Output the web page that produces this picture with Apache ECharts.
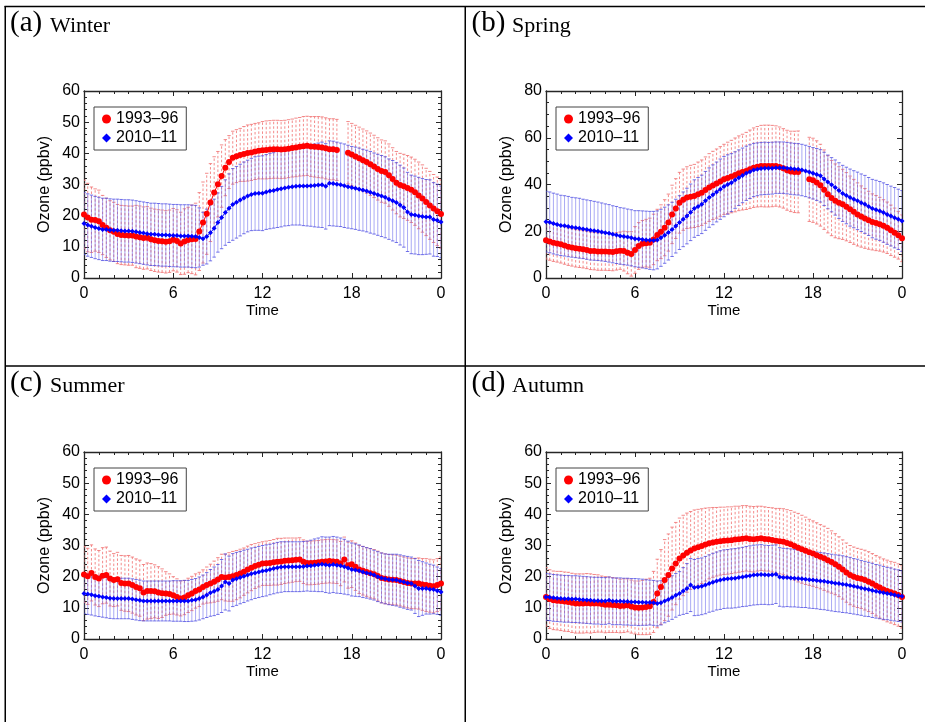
<!DOCTYPE html>
<html><head><meta charset="utf-8">
<script src="https://cdn.jsdelivr.net/npm/echarts@6/dist/echarts.min.js"></script>
<style>html,body{margin:0;padding:0;background:#fff}#c{width:925px;height:722px}</style>
</head><body><div id="c"></div>
<script>
// Time of day (hours), 15-minute steps
const TIME = [
 0,0.25,0.5,0.75,1,1.25,1.5,1.75, 2,2.25,2.5,2.75,3,3.25,3.5,3.75,
 4,4.25,4.5,4.75,5,5.25,5.5,5.75, 6,6.25,6.5,6.75,7,7.25,7.5,7.75,
 8,8.25,8.5,8.75,9,9.25,9.5,9.75, 10,10.25,10.5,10.75,11,11.25,11.5,11.75,
 12,12.25,12.5,12.75,13,13.25,13.5,13.75, 14,14.25,14.5,14.75,15,15.25,15.5,15.75,
 16,16.25,16.5,16.75,17,17.25,17.5,17.75, 18,18.25,18.5,18.75,19,19.25,19.5,19.75,
 20,20.25,20.5,20.75,21,21.25,21.5,21.75, 22,22.25,22.5,22.75,23,23.25,23.5,23.75, 24];
const X_TICK_LABELS = {0:'0',6:'6',12:'12',18:'18',24:'0'};
const NAME_OLD = '1993–96';
const NAME_NEW = '2010–11';
const PANEL_LABELS = ['(a)','(b)','(c)','(d)'];
const PANEL_SEASONS = ['Winter','Spring','Summer','Autumn'];
const Y_MAX = [60,80,60,60];
const Y_STEP = [10,20,10,10];
const Y_MINOR = [5,4,5,5];

// ---- Winter ----
const WINTER_OLD_MEAN = [
 20.4,19.4,18.7,18.6,18.2,17.0,16.1,15.3, 14.8,14.1,13.8,13.7,13.6,13.6,13.3,13.1,
 12.8,12.9,12.4,12.1,11.9,11.8,11.6,11.8, 12.3,11.9,11.1,11.7,12.2,12.4,12.5,14.9,
 17.8,20.6,24.2,27.4,30.1,32.7,35.4,37.2, 38.6,39.1,39.5,39.8,40.1,40.3,40.6,40.8,
 41.0,41.1,41.2,41.3,41.3,41.2,41.3,41.5, 41.7,41.9,42.1,42.3,42.4,42.2,42.1,42.0,
 41.9,41.6,41.3,41.3,41.1,null,null,40.2, 39.6,39.0,38.4,37.8,37.2,36.5,35.8,35.0,
 34.3,34.0,33.0,31.8,30.6,29.8,29.4,28.9, 28.3,27.5,26.5,25.5,24.4,23.3,22.3,21.4, 20.5];
const WINTER_OLD_SD = [
 11,11,10.5,10,10,9.5,9.5,9.5, 9.5,9.5,9.5,9.5,9.5,9.5,10,10,
 10,10,10,10,10,10,10,10, 10,10,10,10.5,10.5,11,11.5,12.5,
 13,13,12.5,11.5,10.5,10,9,8.5, 8.5,8.5,8.5,8.8,9,9,9,9,
 9.2,9.3,9.3,9.3,9.3,9.3,9.3,9.3, 9.3,9.4,9.4,9.5,9.5,9.6,9.7,9.8,
 9.8,9.8,9.8,9.8,9.8,9.9,9.9,10, 10,10,10,10,10,10,10,10,
 10,10,10,10,10,10.2,10.3,10.4, 10.5,10.6,10.7,10.8,10.8,10.9,10.9,11, 11];
const WINTER_NEW_MEAN = [
 17.5,17.0,16.6,16.2,15.9,15.6,15.6,15.4, 15.3,15.3,15.2,15.1,15.1,15.0,14.8,14.6,
 14.4,14.2,14.0,14.0,13.9,13.8,13.8,13.7, 13.6,13.6,13.5,13.5,13.5,13.4,13.3,13.0,
 12.6,13.3,14.5,16.0,17.8,19.4,21.0,22.4, 23.6,24.3,25.0,25.7,26.3,26.8,27.1,27.2,
 27.2,27.6,27.9,28.1,28.4,28.6,28.9,29.1, 29.3,29.4,29.5,29.5,29.5,29.6,29.7,29.8,
 29.9,29.4,30.4,30.3,30.1,29.9,29.6,29.3, 29.0,28.8,28.5,28.2,27.9,27.5,27.1,26.7,
 26.3,25.9,25.3,24.8,24.2,23.4,22.6,21.2, 20.4,20.2,19.9,19.7,19.6,19.6,18.8,18.5, 18.0];
const WINTER_NEW_SD = [
 10,10,10,10,10,10,10,10, 10,10,10,10,10,10,10,10,
 10,10,10,10,10,10,10,10, 10,10,10,10,10,10,10,9.5,
 8.5,8.8,9,9.3,9.5,10,10.5,11, 11.5,11.5,11.5,11.5,11.5,11.6,11.8,11.9,
 12,12,12.1,12.1,12.2,12.2,12.2,12.3, 12.3,12.4,12.5,12.7,12.8,13,13.3,13.5,
 13.7,13.7,13.6,13.6,13.5,13.4,13.4,13.3, 13.2,13.2,13.2,13.1,13.1,13.1,13,13,
 13,13,12.9,12.9,12.8,12.8,12.7,12.7, 12.6,12.5,12.4,12.2,12,11.9,11.8,11.6, 11.5];

// ---- Spring ----
const SPRING_OLD_MEAN = [
 16.1,15.6,15.1,14.8,14.4,13.9,13.4,13.1, 12.7,12.5,12.3,12.0,11.6,11.5,11.3,11.3,
 11.3,11.2,11.1,11.4,11.7,11.5,10.8,10.3, 12.0,13.7,14.6,14.9,15.1,16.5,18.4,19.8,
 21.5,23.7,27.2,29.7,32.2,33.5,34.4,34.8, 35.1,35.8,36.5,37.6,38.7,39.6,40.4,41.3,
 42.2,42.8,43.4,44.1,44.8,45.3,45.8,46.5, 47.2,47.6,47.9,47.9,47.9,47.9,47.9,47.5,
 46.9,46.1,45.6,45.4,45.4,null,null,42.2, 41.8,40.9,39.7,37.8,35.8,34.2,33.0,32.2,
 31.5,30.5,29.4,28.3,27.2,26.3,25.5,24.7, 24.0,23.5,23.0,22.3,21.5,20.4,19.4,18.3, 17.0];
const SPRING_OLD_SD = [
 8,8,8,8,8,8,8,8, 8,8,8,8,8,8,8,8,
 8,8,8,8,8,8.5,9,9.5, 10,10,10,10.2,10.5,10.8,11,11.5,
 12,12.2,12.5,12.8,13,13.1,13.2,13.4, 13.5,13.8,14,14.2,14.5,14.6,14.8,14.9,
 15,15.3,15.5,15.8,16,16.2,16.5,16.8, 17,17.2,17.4,17.5,17.5,17.4,17.2,17.1,
 17,17.1,17.2,17.4,17.5,17.7,17.8,18, 18,17.8,17.5,17,16.5,16.1,15.8,15.4,
 15,14.6,14.2,13.9,13.5,13.1,12.8,12.4, 12,11.8,11.5,11.2,11,10.8,10.5,10.2, 10];
const SPRING_NEW_MEAN = [
 24.1,23.8,23.3,22.9,22.5,22.3,22.0,21.7, 21.5,21.3,21.0,20.7,20.4,20.2,20.0,19.7,
 19.4,19.1,18.7,18.4,18.0,17.8,17.5,17.2, 16.8,16.7,16.5,16.3,16.1,16.0,16.3,17.2,
 18.3,19.5,20.8,22.2,23.7,25.1,26.5,28.1, 29.7,30.6,31.5,33.0,34.4,35.6,36.8,38.0,
 39.1,40.0,40.8,41.9,42.9,43.9,44.8,45.5, 46.2,46.5,46.8,46.9,46.9,47.0,47.2,47.2,
 47.2,47.0,46.8,46.6,46.5,46.2,45.8,45.3, 44.8,44.3,43.7,42.4,41.1,39.9,38.7,37.4,
 36.2,35.3,34.4,33.7,33.0,32.2,31.5,30.6, 29.7,29.2,28.7,28.0,27.2,26.5,25.8,25.1, 24.4];
const SPRING_NEW_SD = [
 13,13,13,13,12.9,12.9,12.9,12.8, 12.8,12.8,12.7,12.7,12.7,12.6,12.5,12.4,
 12.3,12.3,12.2,12.2,12.1,12.1,12,12, 12,12.1,12.2,12.3,12.4,12.5,12.4,12.2,
 12,11.8,11.6,11.5,11.5,11.7,11.9,12.1, 12.3,12.4,12.5,12.6,12.7,12.8,12.8,12.9,
 12.9,12.7,12.4,12.1,11.9,11.7,11.6,11.5, 11.4,11.3,11.2,11.2,11.1,11.1,11,11,
 11,11,11,11,11,11,11,11, 11,11.1,11.2,11.4,11.5,11.6,11.8,11.9,
 12,12.1,12.2,12.2,12.3,12.3,12.4,12.4, 12.5,12.6,12.6,12.7,12.8,12.8,12.9,12.9, 13];

// ---- Summer ----
const SUMMER_OLD_MEAN = [
 20.7,20.1,21.2,19.9,19.4,20.3,20.5,19.4, 18.9,19.2,18.0,17.8,17.8,17.3,16.7,16.3,
 14.9,15.4,15.4,15.3,14.9,14.7,14.6,14.4, 14.0,13.5,13.0,13.3,14.0,14.6,15.4,15.9,
 16.7,17.3,17.8,18.4,19.1,19.9,19.7,19.9, 20.1,20.5,21.0,21.6,22.3,22.9,23.4,23.8,
 24.2,24.3,24.4,24.6,24.8,24.9,25.1,25.2, 25.3,25.4,25.5,24.8,24.4,24.4,24.5,24.6,
 24.8,24.9,25.0,24.9,24.8,24.2,25.5,23.7, 24.0,23.2,22.3,21.9,21.5,21.1,20.8,20.2,
 19.6,19.3,19.1,19.0,18.9,18.6,18.3,18.0, 17.8,17.8,17.8,17.5,17.3,17.1,16.9,17.3, 17.8];
const SUMMER_OLD_SD = [
 9,9,9,9,9,9,9,8.8, 8.5,8.6,8.8,8.9,9,9,9,9,
 9,9,8.8,8.5,8.3,7.8,7,6.5, 6,5.8,5.6,5.5,5.5,5.5,5.5,5.5,
 5.5,5.8,6.2,6.6,7,7.3,7.5,7.8, 8,7.9,7.8,7.6,7.5,7.4,7.2,7.1,
 7,7.1,7.2,7.3,7.5,7.4,7.3,7.2, 7.1,7,7,7,7,7,7,7,
 7,7,7,7,7,7.1,7.2,7.4, 7.5,7.6,7.7,7.8,7.8,7.9,7.9,8,
 8,8,8,8,8,8,8,8, 8,8.1,8.2,8.3,8.5,8.5,8.5,8.5, 8.5];
const SUMMER_NEW_MEAN = [
 14.6,14.4,14.2,13.9,13.7,13.5,13.3,13.1, 13.0,13.0,13.0,13.0,13.0,12.8,12.6,12.4,
 12.2,12.2,12.2,12.2,12.2,12.2,12.2,12.2, 12.2,12.2,12.2,12.2,12.2,12.4,12.6,13.0,
 13.5,14.1,14.8,15.3,15.9,17.0,18.3,17.8, 18.9,19.3,19.7,20.1,20.5,20.9,21.2,21.5,
 21.8,22.0,22.3,22.6,22.9,23.1,23.2,23.2, 23.2,23.2,23.2,23.3,23.4,23.5,23.7,23.8,
 24.0,23.8,23.7,23.9,23.7,23.5,23.2,22.8, 22.3,22.1,21.9,21.5,21.2,20.9,20.5,20.0,
 19.6,19.3,19.1,19.0,18.9,18.6,18.3,18.0, 17.8,17.0,16.2,16.2,16.2,16.0,15.9,15.5, 15.1];
const SUMMER_NEW_SD = [
 6.5,6.5,6.5,6.5,6.5,6.5,6.5,6.5, 6.5,6.5,6.5,6.5,6.5,6.5,6.5,6.5,
 6.4,6.4,6.4,6.4,6.4,6.4,6.4,6.4, 6.5,6.5,6.5,6.6,6.6,6.7,6.8,6.9,
 7,7.2,7.5,7.8,8,8.5,9,8.8, 8.5,8.5,8.4,8.4,8.3,8.3,8.2,8.2,
 8.2,8.2,8.1,8.1,8.1,8.1,8,8, 8,8,8,8,8,8.2,8.4,8.6,
 8.8,8.9,9,9,9,8.9,8.8,8.6, 8.5,8.4,8.3,8.2,8.1,8.1,8,8,
 8,8,8.1,8.2,8.3,8.4,8.4,8.5, 8.5,8.8,9,8.6,8.2,8,7.8,7.6, 7.5];

// ---- Autumn ----
const AUTUMN_OLD_MEAN = [
 13.5,12.8,12.4,12.3,12.2,12.0,11.9,11.6, 11.4,11.4,11.4,11.5,11.4,11.4,11.4,11.2,
 11.0,11.0,10.9,10.8,10.6,10.7,10.8,10.4, 10.1,10.0,10.1,10.3,10.5,11.9,14.6,16.7,
 18.9,20.5,22.6,24.2,25.8,26.8,27.7,28.4, 29.0,29.4,29.8,30.3,30.7,31.0,31.2,31.4,
 31.5,31.6,31.7,31.9,32.0,32.2,32.3,32.1, 32.0,32.2,32.3,32.1,32.0,31.8,31.5,31.4,
 31.2,30.8,30.4,29.8,29.3,28.8,28.3,27.8, 27.4,26.9,26.4,25.9,25.3,24.7,24.0,23.2,
 22.3,21.3,20.5,20.0,19.6,19.3,18.9,18.4, 17.8,17.1,16.5,15.9,15.4,15.0,14.6,14.1, 13.5];
const AUTUMN_OLD_SD = [
 9.4,9.4,9.4,9.4,9.5,9.5,9.5,9.5, 9.5,9.5,9.5,9.5,9.5,9.3,9.2,9,
 9,8.9,8.8,8.7,8.6,8.6,8.5,8.5, 8.5,8.6,8.7,8.9,9,9.8,11,12,
 13,13.2,13.3,13.2,13,12.9,12.7,12.5, 12.4,12.2,12,11.7,11.4,11.2,11,10.9,
 10.8,10.8,10.7,10.7,10.6,10.6,10.5,10.5, 10.5,10.4,10.3,10.3,10.2,10.3,10.4,10.5,
 10.6,10.7,10.8,10.9,11,10.9,10.8,10.6, 10.5,10.4,10.3,10.3,10.2,10,9.8,9.6,
 9.5,9.5,9.5,9.5,9.5,9.5,9.6,9.6, 9.6,9.7,9.8,9.8,9.9,9.9,10,10, 10];
const AUTUMN_NEW_MEAN = [
 13.5,13.4,13.2,13.1,13.0,12.9,12.9,12.8, 12.8,12.7,12.6,12.5,12.4,12.3,12.3,12.2,
 12.2,12.4,12.1,12.1,12.1,12.0,12.0,11.9, 11.9,11.8,11.8,11.7,11.7,11.6,11.4,11.6,
 12.2,12.7,13.3,14.0,14.6,15.4,16.2,17.3, 16.5,16.7,16.9,17.3,17.8,18.2,18.6,18.9,
 19.2,19.3,19.4,19.5,19.7,19.9,20.1,20.3, 20.5,20.6,20.7,20.6,20.5,20.6,20.8,19.9,
 19.7,19.7,19.6,19.5,19.4,19.3,19.2,19.0, 18.9,18.8,18.6,18.5,18.3,18.1,17.9,17.8,
 17.6,17.4,17.2,16.9,16.7,16.4,16.1,15.9, 15.6,15.3,15.1,14.8,14.6,14.4,14.1,13.9, 13.7];
const AUTUMN_NEW_SD = [
 7.5,7.5,7.5,7.5,7.5,7.5,7.5,7.5, 7.5,7.5,7.5,7.5,7.5,7.5,7.5,7.5,
 7.5,7.5,7.5,7.5,7.5,7.5,7.5,7.5, 7.5,7.5,7.4,7.3,7.2,7.2,7.2,7.1,
 7,7,7,7,7,7.5,8,8.5, 9,9.1,9.1,9.2,9.2,9.3,9.3,9.4,
 9.4,9.4,9.5,9.5,9.5,9.5,9.6,9.6, 9.6,9.6,9.6,9.5,9.5,9.5,9.4,9.4,
 9.4,9.3,9.3,9.2,9.2,9.2,9.1,9.1, 9.1,9.1,9.1,9.1,9.1,9.1,9.1,9.1,
 9.1,9,9,8.9,8.9,8.8,8.8,8.7, 8.7,8.6,8.6,8.5,8.4,8.4,8.3,8.3, 8.2];

const PANELS = [
  [WINTER_OLD_MEAN, WINTER_OLD_SD, WINTER_NEW_MEAN, WINTER_NEW_SD],
  [SPRING_OLD_MEAN, SPRING_OLD_SD, SPRING_NEW_MEAN, SPRING_NEW_SD],
  [SUMMER_OLD_MEAN, SUMMER_OLD_SD, SUMMER_NEW_MEAN, SUMMER_NEW_SD],
  [AUTUMN_OLD_MEAN, AUTUMN_OLD_SD, AUTUMN_NEW_MEAN, AUTUMN_NEW_SD]
];

// ---------------- layout / style ----------------
const SANS = '"Liberation Sans", Arial, Helvetica, sans-serif';
const SERIF = '"Liberation Serif", "Times New Roman", serif';
const GRIDS = [
  {left:84, top:91, width:357, height:187},
  {left:546, top:91, width:356, height:187},
  {left:84, top:452, width:357, height:187},
  {left:546, top:452, width:356, height:187}
];
const TITLE_POS = [[10,50,33.5],[471.5,512,33.5],[10,50,393.5],[471.5,512,393.5]];
const FRAME = '#262626';

function lineData(mean){ return TIME.map((t,i)=> mean[i]==null ? [t,'-'] : [t, mean[i]]); }
function errData(mean, sd){
  const out = [];
  TIME.forEach((t,i)=>{ if(mean[i]!=null) out.push([t, mean[i]-sd[i], mean[i]+sd[i]]); });
  return out;
}
function errRender(color, capColor, dashed){
  return function(params, api){
    const x = api.value(0), lo = api.value(1), hi = api.value(2);
    const a = api.coord([x, lo]), b = api.coord([x, hi]);
    const w = 1.7;
    return {type:'group', children:[
      {type:'line', shape:{x1:a[0],y1:a[1],x2:b[0],y2:b[1]},
        style:{stroke:color, lineWidth:1, lineDash: dashed ? [2.5,2] : null}},
      {type:'line', shape:{x1:a[0]-w,y1:a[1],x2:a[0]+w,y2:a[1]}, style:{stroke:capColor,lineWidth:1}},
      {type:'line', shape:{x1:b[0]-w,y1:b[1],x2:b[0]+w,y2:b[1]}, style:{stroke:capColor,lineWidth:1}}
    ]};
  };
}

const xAxes = [], yAxes = [], series = [], legends = [], graphics = [];
GRIDS.forEach((g,k)=>{
  const axLine = {show:true, onZero:false, lineStyle:{color:FRAME, width:1.3}};
  xAxes.push({type:'value', gridIndex:k, position:'bottom', min:0, max:24, interval:6,
    axisLine:axLine, splitLine:{show:false},
    axisTick:{inside:true, length:5, lineStyle:{color:FRAME}},
    minorTick:{show:true, splitNumber:6, length:3, lineStyle:{color:FRAME}},
    axisLabel:{margin:8, color:'#000', fontSize:16, fontFamily:SANS, formatter:v=>X_TICK_LABELS[v]},
    name:'Time', nameLocation:'middle', nameGap:25,
    nameTextStyle:{color:'#000', fontSize:15, fontFamily:SANS}});
  xAxes.push({type:'value', gridIndex:k, position:'top', min:0, max:24, interval:6,
    axisLine:axLine, splitLine:{show:false}, axisLabel:{show:false},
    axisTick:{inside:true, length:5, lineStyle:{color:FRAME}},
    minorTick:{show:true, splitNumber:6, length:3, lineStyle:{color:FRAME}}});
  yAxes.push({type:'value', gridIndex:k, position:'left', min:0, max:Y_MAX[k], interval:Y_STEP[k],
    axisLine:axLine, splitLine:{show:false},
    axisTick:{inside:true, length:5, lineStyle:{color:FRAME}},
    minorTick:{show:true, splitNumber:Y_MINOR[k], length:3, lineStyle:{color:FRAME}},
    axisLabel:{margin:4, color:'#000', fontSize:16, fontFamily:SANS},
    name:'Ozone (ppbv)', nameLocation:'middle', nameGap:31,
    nameTextStyle:{color:'#000', fontSize:16, fontFamily:SANS}});
  yAxes.push({type:'value', gridIndex:k, position:'right', min:0, max:Y_MAX[k], interval:Y_STEP[k],
    axisLine:axLine, splitLine:{show:false}, axisLabel:{show:false},
    axisTick:{inside:true, length:5, lineStyle:{color:FRAME}},
    minorTick:{show:true, splitNumber:Y_MINOR[k], length:3, lineStyle:{color:FRAME}}});

  const [om, osd, nm, nsd] = PANELS[k];
  series.push({type:'custom', xAxisIndex:2*k, yAxisIndex:2*k, silent:true, clip:true, z:1,
    renderItem: errRender('rgba(240,110,110,0.8)','rgba(240,110,110,0.8)', true),
    encode:{x:0, y:[1,2]}, data: errData(om, osd)});
  series.push({type:'custom', xAxisIndex:2*k, yAxisIndex:2*k, silent:true, clip:true, z:2,
    renderItem: errRender('rgba(100,100,235,0.55)','rgba(70,70,225,0.75)', false),
    encode:{x:0, y:[1,2]}, data: errData(nm, nsd)});
  series.push({type:'line', name:NAME_OLD, xAxisIndex:2*k, yAxisIndex:2*k, z:3,
    symbol:'circle', symbolSize:6, connectNulls:false,
    lineStyle:{color:'#ff0000', width:1}, itemStyle:{color:'#ff0000'},
    data: lineData(om)});
  series.push({type:'line', name:NAME_NEW, xAxisIndex:2*k, yAxisIndex:2*k, z:4,
    symbol:'diamond', symbolSize:5, connectNulls:false,
    lineStyle:{color:'#0000ff', width:1}, itemStyle:{color:'#0000ff'},
    data: lineData(nm)});

  legends.push({left:g.left+10, top:g.top+16, orient:'vertical', selectedMode:false,
    itemWidth:9, itemHeight:9, itemGap:3, padding:[4,8,4,8],
    borderColor:'#444', borderWidth:1, backgroundColor:'#fff',
    textStyle:{color:'#000', fontSize:16, fontFamily:SANS},
    data:[{name:NAME_OLD, icon:'circle', itemStyle:{color:'#ff0000'}},
          {name:NAME_NEW, icon:'diamond', itemStyle:{color:'#0000ff'}}]});

  const tp = TITLE_POS[k];
  graphics.push({type:'text', x:tp[0], y:tp[2]-9.8, style:{text:PANEL_LABELS[k], font:'29px '+SERIF, fill:'#000', verticalAlign:'middle', align:'left'}});
  graphics.push({type:'text', x:tp[1], y:tp[2]-7.4, style:{text:PANEL_SEASONS[k], font:'22px '+SERIF, fill:'#000', verticalAlign:'middle', align:'left'}});
});

// table cell borders
const B = {stroke:'#000', lineWidth:1.5};
graphics.push({type:'line', shape:{x1:4.5,y1:6.5,x2:925,y2:6.5}, style:B});
graphics.push({type:'line', shape:{x1:5.25,y1:6,x2:5.25,y2:722}, style:B});
graphics.push({type:'line', shape:{x1:465.25,y1:6,x2:465.25,y2:722}, style:B});
graphics.push({type:'line', shape:{x1:5,y1:366,x2:925,y2:366}, style:B});

const chart = echarts.init(document.getElementById('c'), null, {renderer:'canvas'});
chart.setOption({
  animation:false,
  backgroundColor:'#fff',
  grid: GRIDS,
  xAxis: xAxes,
  yAxis: yAxes,
  legend: legends,
  series: series,
  graphic: graphics
});
</script></body></html>
